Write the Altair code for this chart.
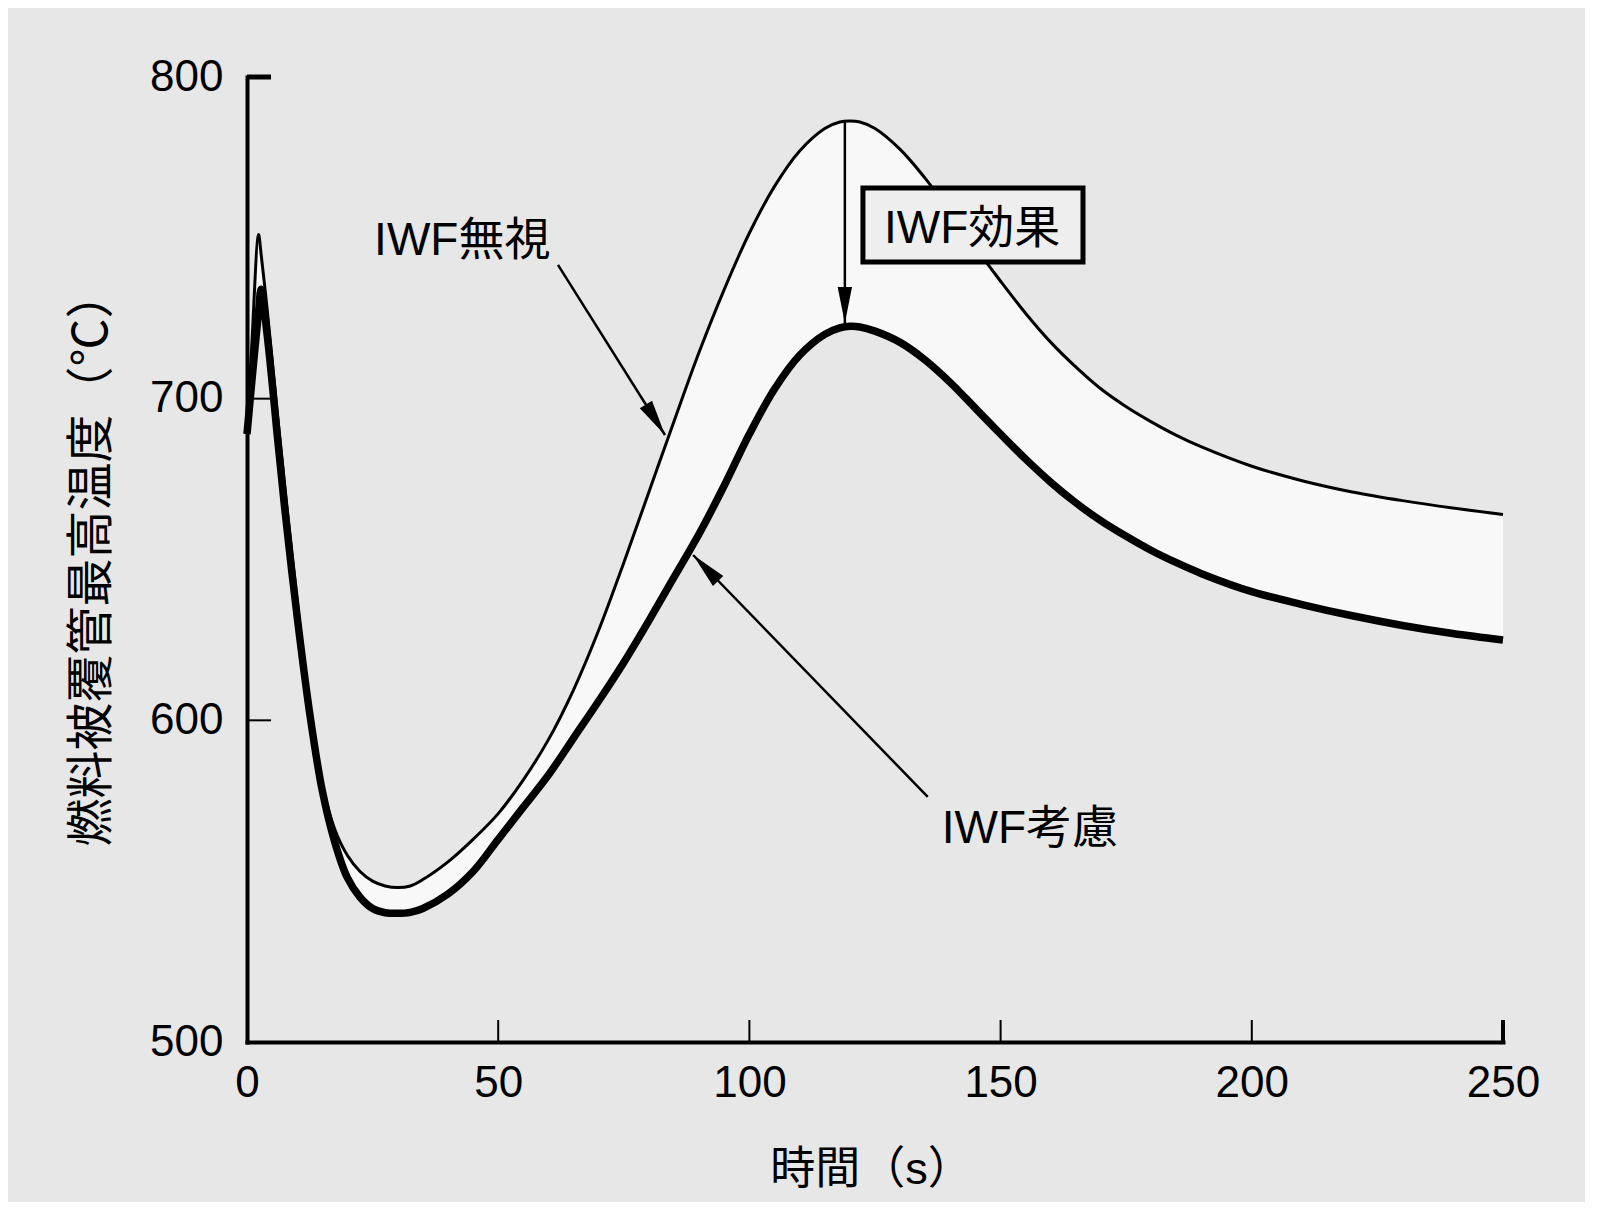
import altair as alt
import pandas as pd

# ---- data ----
t = [0, 1, 2.3, 2.8, 4, 5, 6, 7.5, 10, 12.5, 15, 17.5, 20, 22.5, 25, 27.5, 30, 32.5, 35,
     40, 45, 50, 55, 60, 65, 70, 75, 80, 85, 90, 95, 100, 105, 110, 115, 118, 120, 122,
     125, 130, 135, 140, 145, 150, 155, 160, 165, 170, 175, 180, 185, 190, 200, 210, 220,
     230, 240, 250]
iwf_ignored = [689, 718, 751, 745, 728, 712, 696, 673, 637, 604, 580, 566, 558, 553, 550,
               548.5, 548, 548.5, 550.5, 556, 563, 571, 581.5, 594, 609.5, 628, 649, 671,
               693, 714.5, 734, 751.5, 766, 777, 784, 786, 786.3, 786, 784, 777.5, 768.5,
               758, 747, 736.5, 726.5, 717.5, 709.8, 703, 697.5, 692.8, 688.6, 685, 679,
               674.5, 671, 668.3, 666, 664]
iwf_considered = [689, 706, 727, 734, 720, 705, 689, 666, 632, 602, 578, 562, 551, 545,
                  541.5, 540.2, 540, 540.3, 541.5, 546, 553, 563, 573, 583, 594.5, 606,
                  618, 631, 644.5, 658, 673, 689, 703, 713.5, 720, 722, 722.5, 722.3, 721,
                  717.5, 712, 705, 697, 689, 681.2, 674, 667.6, 662, 657.2, 652.8, 649,
                  645.6, 640, 636, 632.5, 629.5, 627, 625]

x_tick_values = [50, 100, 150, 200, 250]
x_tick_widths = [2, 2, 2, 2, 4]
y_tick_values = [600, 700, 800]
y_tick_widths = [2, 2, 5]

x_labels = [0, 50, 100, 150, 200, 250]
y_labels = [500, 600, 700, 800]

# annotations (data coordinates)
labels_text = ["IWF無視", "IWF考慮", "IWF効果"]
labels_t = [25.3, 138.3, 126.8]
labels_v = [744.7, 561.9, 748.4]

arrow_t1 = [61.9, 135.5, 119.0]
arrow_v1 = [741.6, 576.2, 786.0]
arrow_t2 = [83.2, 88.8, 119.0]
arrow_v2 = [688.7, 651.4, 723.5]
arrow_angle = [328, 136, 0]

box_t = [122.6]
box_t2 = [166.4]
box_v = [765.5]
box_v2 = [742.5]

FONT = "Liberation Sans, Noto Sans CJK JP"
BG = "#e7e7e7"

curves = pd.DataFrame({"t": t, "ignored": iwf_ignored, "considered": iwf_considered})
xt = pd.DataFrame({"t": x_tick_values, "w": x_tick_widths})
yt = pd.DataFrame({"v": y_tick_values, "w": y_tick_widths})
lab = pd.DataFrame({"t": labels_t, "v": labels_v, "s": labels_text})
arr = pd.DataFrame({"t1": arrow_t1, "v1": arrow_v1, "t2": arrow_t2, "v2": arrow_v2,
                    "a": arrow_angle})
box = pd.DataFrame({"t": box_t, "t2": box_t2, "v": box_v, "v2": box_v2})

xs = alt.Scale(domain=[0, 250], nice=False, zero=False)
ys = alt.Scale(domain=[500, 800], nice=False, zero=False)

x_axis = alt.Axis(
    title="時間（s）", values=x_labels, ticks=False, tickSize=0, grid=False,
    domainColor="black", domainWidth=4, domainCap="square",
    labelFont=FONT, labelFontSize=44, labelColor="black", labelPadding=19,
    labelFlush=False,
    titleFont=FONT, titleFontSize=45, titleFontWeight="normal", titleColor="black",
    titleX=624, titleY=141, titleBaseline="alphabetic",
)
y_axis = alt.Axis(
    title="燃料被覆管最高温度（℃）", values=y_labels, ticks=False, tickSize=0, grid=False,
    domainColor="black", domainWidth=4, domainCap="square",
    labelFont=FONT, labelFontSize=44, labelColor="black", labelPadding=24,
    labelFlush=False,
    titleFont=FONT, titleFontSize=48, titleFontWeight="normal", titleColor="black",
    titleX=-141, titleY=481, titleBaseline="alphabetic",
)


def X(field):
    return alt.X(field, scale=xs, axis=x_axis)


def Y(field):
    return alt.Y(field, scale=ys, axis=y_axis)


band = alt.Chart(curves).mark_area(fill="#f8f8f8", interpolate="catmull-rom").encode(
    x=X("t:Q"), y=Y("ignored:Q"), y2="considered:Q",
)

thin = alt.Chart(curves).mark_line(color="black", strokeWidth=3,
                                   interpolate="catmull-rom").encode(
    x=X("t:Q"), y=Y("ignored:Q"),
)
thick = alt.Chart(curves).mark_line(color="black", strokeWidth=7.5,
                                    interpolate="catmull-rom").encode(
    x=X("t:Q"), y=Y("considered:Q"),
)

arrow_lines = alt.Chart(arr).mark_rule(color="black", strokeWidth=2.5).encode(
    x=X("t1:Q"), y=Y("v1:Q"), x2="t2:Q", y2="v2:Q",
)
arrow_heads = alt.Chart(arr).mark_point(
    shape="M0,0L-0.2,-1L0.2,-1Z", filled=True, color="black", opacity=1,
    size=5184, strokeWidth=0,
).encode(
    x=X("t2:Q"), y=Y("v2:Q"),
    angle=alt.Angle("a:Q", scale=None),
)

box_rect = alt.Chart(box).mark_rect(fill="#eeeeee", stroke="black", strokeWidth=5).encode(
    x=X("t:Q"), x2="t2:Q", y=Y("v:Q"), y2="v2:Q",
)

texts = alt.Chart(lab).mark_text(
    align="left", baseline="alphabetic", font=FONT, fontSize=46, color="black"
).encode(
    x=X("t:Q"), y=Y("v:Q"), text="s:N",
)

x_ticks = alt.Chart(xt).mark_rule(color="black").encode(
    x=X("t:Q"),
    y=alt.value(965),
    y2=alt.value(943),
    strokeWidth=alt.StrokeWidth("w:Q", scale=None),
)
y_ticks = alt.Chart(yt).mark_rule(color="black").encode(
    y=Y("v:Q"),
    x=alt.value(0),
    x2=alt.value(24),
    strokeWidth=alt.StrokeWidth("w:Q", scale=None),
)

chart = alt.layer(
    band, thin, thick, arrow_lines, arrow_heads, box_rect, texts, x_ticks, y_ticks
).properties(
    width=1256, height=965,
    autosize=alt.AutoSizeParams(type="none"),
    padding={"left": 239, "top": 69, "right": 82, "bottom": 160},
    background=BG,
).configure_view(stroke=None)

chart.save("out.html", embed_options={"renderer": "svg", "actions": False})
